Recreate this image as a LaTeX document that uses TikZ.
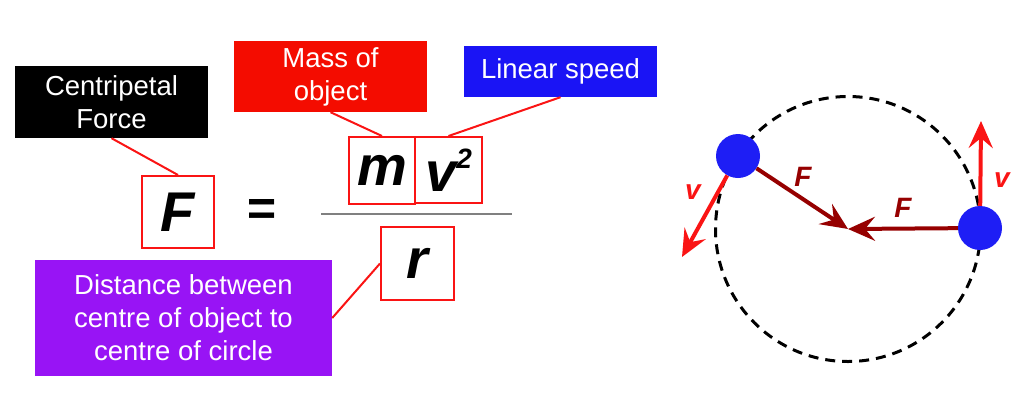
\documentclass[tikz,border=0pt]{standalone}
\usepackage{fontspec}
\setmainfont{Liberation Sans}
\usepackage{tikz}
\usetikzlibrary{arrows.meta,positioning}
\definecolor{boxred}{RGB}{244,12,0}
\definecolor{boxblue}{RGB}{26,20,245}
\definecolor{boxpurple}{RGB}{152,20,245}
\definecolor{ballblue}{RGB}{30,30,245}
\definecolor{linered}{RGB}{250,20,20}
\definecolor{forcered}{RGB}{150,0,0}
\newcommand{\Var}[1]{{\fontsize{56}{56}\selectfont\bfseries\itshape #1}}

\begin{document}
\begin{tikzpicture}[x=1pt,y=-1pt,
    >={Stealth[length=27pt,width=24pt,inset=10pt]},
    tag/.style={text=white,align=center,inner sep=0pt,
      font=\fontsize{27.5}{33}\selectfont},
    term/.style={draw=linered,line width=2pt,inner sep=0pt},
    lead/.style={draw=linered,line width=2pt},
    ball/.style={circle,fill=ballblue,minimum size=44pt,inner sep=0pt},
    vel/.style={->,draw=linered,line width=4pt},
    force/.style={->,draw=forcered,line width=4pt},
    sym/.style={font=\fontsize{28}{28}\selectfont\bfseries\itshape}]
        \useasboundingbox (0,0) rectangle (1024,418);

        \node[tag,fill=black,minimum width=193pt,minimum height=72pt] (centripetal) at (111.5,102) {Centripetal\\Force};
        \node[tag,fill=boxred,minimum width=193pt,minimum height=71pt] (mass) at (330.5,76.5) {Mass of\\object};
        \node[tag,fill=boxblue,minimum width=193pt,minimum height=51pt] (speed) at (560.5,71.5) {Linear speed};
        \node[tag,fill=boxpurple,minimum width=297pt,minimum height=116pt] (distance) at (183.5,318) {Distance between\\centre of object to\\centre of circle};

        \node[term,minimum width=72pt,minimum height=72pt] (F) at (178,212) {\Var{F}};
        \node[font=\fontsize{50}{50}\selectfont\bfseries\itshape] (eq) at (261,212) {=};
        \node[term,minimum width=66pt,minimum height=67pt] (m) at (382,170.5) {\Var{m}};
        \node[term,minimum width=67pt,minimum height=66pt] (v) at (448.5,170) {\Var{v}\raisebox{23pt}{\fontsize{28}{28}\selectfont\bfseries\itshape 2}};
        \node[term,minimum width=73pt,minimum height=73pt] (r) at (417.5,263.5) {\Var{r}};
        \coordinate (barl) at (321,214);
        \coordinate (barr) at (512,214);
        \draw[gray,line width=2.5pt] (barl) -- (barr);

        \draw[lead] (centripetal.south) -- (F.north);
        \draw[lead] (mass.south) -- (m.north);
        \draw[lead] (speed.south) -- (v.north);
        \draw[lead] (distance.east) -- (r.west);

        \coordinate (ctr) at (848,229);
        \draw[dash pattern=on 10pt off 7pt,line width=3pt] (ctr) circle[radius=132.5];
        \node[ball] (obj1) at (738,156) {};
        \node[ball] (obj2) at (980,228) {};
        \coordinate (vtip1) at (682,257);
        \coordinate (vtip2) at (981,121);

        \draw[vel] (obj1) -- (vtip1);
        \draw[vel] (obj2) -- (vtip2);
        \draw[force] (obj1) -- (ctr);
        \draw[force] (obj2) -- (ctr);

        \node[sym,text=linered] (v1) at (693,192) {v};
        \node[sym,text=linered] (v2) at (1002,180) {v};
        \node[sym,text=forcered] (F1) at (803,177) {F};
        \node[sym,text=forcered] (F2) at (903,208) {F};
      \end{tikzpicture}
\end{document}
